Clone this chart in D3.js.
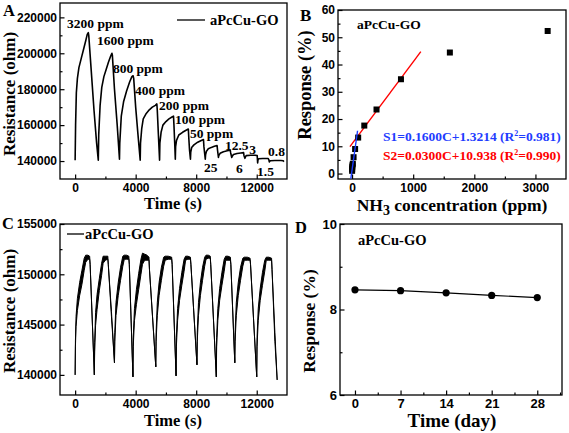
<!DOCTYPE html>
<html><head><meta charset="utf-8">
<script src="https://cdn.jsdelivr.net/npm/d3@7"></script>
<style>
body{margin:0;background:#fff}
svg{display:block}
</style></head><body>
<svg id="c" width="569" height="433"></svg>
<script>
// ---------------- DATA ----------------
// Panel A: resistance (ohm) vs time (s)
const aTrace = [
 [0,140500],[30,160000],[80,178000],[150,186000],[250,192000],[400,197000],[550,202000],[700,207000],[800,210500],[870,211500],[900,210000],[1050,192000],[1250,168000],[1420,150000],[1530,140500],
 [1560,155000],[1650,171000],[1760,181000],[1900,187000],[2050,191000],[2200,195000],[2350,198500],[2430,200000],[2460,199000],[2600,180000],[2780,160000],[2930,141000],
 [2950,150000],[3050,165000],[3200,173000],[3400,179000],[3600,184000],[3750,187000],[3830,187500],[3870,186000],[4000,170000],[4150,155000],[4300,140500],
 [4320,150000],[4400,158000],[4500,163500],[4700,166500],[4900,168500],[5100,170000],[5300,171000],[5400,171800],[5430,168000],[5500,155000],[5580,140500],
 [5600,150000],[5680,156000],[5800,160000],[6000,162000],[6200,163500],[6400,164500],[6500,165000],[6530,160000],[6580,150000],[6620,141000],
 [6640,148000],[6700,151500],[6850,154500],[7100,156000],[7300,157000],[7480,157800],[7510,153000],[7560,146000],[7620,141000],
 [7640,145000],[7700,147500],[7850,149000],[8100,150500],[8300,151300],[8480,152000],[8510,148000],[8600,141000],
 [8620,143500],[8680,145500],[8800,146800],[9000,147600],[9200,148200],[9380,148600],[9410,146000],[9470,142000],
 [9490,143000],[9580,144300],[9800,145200],[10050,145700],[10250,146000],[10280,144500],[10350,142000],
 [10370,142500],[10460,143600],[10700,144200],[10950,144500],[11130,144700],[11160,143000],[11220,141500],
 [11240,142000],[11300,143000],[11600,143200],[11900,143200],[12030,143000],[12060,139000],
 [12080,140500],[12120,141300],[12400,141400],[12750,141400],[12800,140800],[12830,139500],
 [12850,139700],[12900,140200],[13200,140300],[13600,140300],[13750,140200],[13790,139600]
];
// concentration annotations: text, anchor time, anchor resistance
const aNotes = [
 ["3200 ppm",-535,214100],["1600 ppm",1450,204600],["800 ppm",2500,189300],["400 ppm",3960,176800],
 ["200 ppm",5545,168400],["100 ppm",6600,160600],["50 ppm",7590,152600],["12.5",9900,146300],
 ["3",11500,143900],["0.8",12750,142800],["25",8520,133900],["6",10630,133400],["1.5",12020,131700]
];
const aXTicks = [0,4000,8000,12000];
const aYTicks = [140000,160000,180000,200000,220000];

// Panel B: response (%) vs NH3 concentration (ppm)
const bConc = [0.8,1.5,3,6,12.5,25,50,100,200,400,800,1600,3200];
const bResp = [1.0,1.6,2.3,3.0,3.6,6.0,9.0,13.2,17.6,23.5,34.6,44.4,52.3];
const bFitS1 = [[-20,-1.9],[90,15.7]];
const bFitS2 = [[-35,9.9],[1125,44.7]];
const bXTicks = [0,1000,2000,3000];
const bYTicks = [0,10,20,30,40,50,60];

// Panel C: repeated cycles, [time, low, high] of the noisy trace
const cTrace = [
 [0,140000,140000],[20,142800,143400],[60,144800,145800],[150,146400,147600],[300,147900,149200],[450,149000,150400],[600,150400,151600],[700,151200,151900],[850,151500,151900],[960,151500,151800],[990,151000,151000],[1270,140000,140000],
 [1290,142300,143200],[1350,144900,146200],[1450,146500,148000],[1600,148400,149600],[1750,149900,151100],[1850,151100,151800],[2000,151400,151800],[2160,151500,151800],[2190,151000,151000],[2400,145800,146300],[2600,141200,141200],
 [2620,143300,144200],[2700,145900,147200],[2850,147900,149200],[3000,149400,150700],[3150,150800,151800],[3250,151500,151900],[3400,151500,151900],[3550,151500,151800],[3580,151000,151000],[3820,139800,139800],
 [3840,142800,143700],[3920,145400,146600],[4050,147000,148500],[4200,148500,150100],[4350,150000,151500],[4450,151000,152100],[4600,151400,152000],[4750,151400,151900],[4880,151400,151700],[4910,150500,150500],[5330,140800,140800],
 [5350,143300,144200],[5430,145900,147200],[5550,147900,149200],[5700,149400,150700],[5850,150800,151700],[5950,151400,151800],[6150,151500,151800],[6380,151500,151700],[6410,151000,151000],[6670,139900,139900],
 [6690,142800,143700],[6770,145400,146600],[6900,147400,148600],[7050,148900,150200],[7200,150300,151500],[7300,151400,151800],[7450,151500,151800],[7620,151500,151700],[7650,151000,151000],[8050,141000,141000],
 [8070,143300,144200],[8150,145900,147200],[8280,147900,149200],[8420,149400,150700],[8560,150800,151700],[8650,151500,151900],[8800,151600,151900],[8930,151600,151800],[8960,151000,151000],[9330,139800,139800],
 [9350,142800,143700],[9430,145400,146600],[9550,147400,148600],[9700,148900,150200],[9850,150300,151500],[9950,151400,151800],[10100,151400,151800],[10260,151400,151700],[10290,151000,151000],[10550,141200,141200],
 [10570,143300,144200],[10650,145900,147200],[10780,147900,149200],[10930,149400,150700],[11080,150800,151600],[11180,151400,151700],[11380,151400,151700],[11560,151400,151600],[11590,151000,151000],[12000,139800,139800],
 [12020,142800,143700],[12100,145400,146600],[12230,147400,148600],[12380,148900,150200],[12530,150300,151400],[12630,151400,151700],[12800,151400,151700],[12980,151400,151600],[13010,150500,150500],[13200,143300,144200],[13350,139500,139500]
];
const cXTicks = [0,4000,8000,12000];
const cYTicks = [140000,145000,150000,155000];

// Panel D: stability
const dDays = [0,7,14,21,28];
const dResp = [8.46,8.44,8.39,8.33,8.28];
const dXTicks = [0,7,14,21,28];
const dYTicks = [6,8,10];

// ---------------- DRAWING ----------------
const svg = d3.select("#c");
const SANS = "'Liberation Sans', Arial, sans-serif";
const SERIF = "'Liberation Serif', 'Times New Roman', serif";

function panel(cfg){
  const x = d3.scaleLinear().domain(cfg.xd).range([cfg.l, cfg.r]);
  const y = d3.scaleLinear().domain(cfg.yd).range([cfg.b, cfg.t]);
  const g = svg.append("g");
  const style = s => {
    s.select(".domain").remove();
    s.selectAll("line").attr("stroke","#000").attr("stroke-width",1.2);
    s.selectAll("text").attr("font-family",SANS).attr("font-weight","bold").attr("font-size",cfg.tf).attr("fill","#000");
  };
  g.append("g").attr("transform",`translate(0,${cfg.b})`)
    .call(d3.axisBottom(x).tickValues(cfg.xMinor).tickSize(-2.5).tickFormat("")).call(style);
  g.append("g").attr("transform",`translate(${cfg.l},0)`)
    .call(d3.axisLeft(y).tickValues(cfg.yMinor).tickSize(-2.5).tickFormat("")).call(style);
  g.append("g").attr("transform",`translate(0,${cfg.b})`)
    .call(d3.axisBottom(x).tickValues(cfg.xMajor).tickSizeInner(-4.5).tickSizeOuter(0).tickPadding(4).tickFormat(d3.format("d"))).call(style);
  g.append("g").attr("transform",`translate(${cfg.l},0)`)
    .call(d3.axisLeft(y).tickValues(cfg.yMajor).tickSizeInner(-4.5).tickSizeOuter(0).tickPadding(3).tickFormat(d3.format("d"))).call(style);
  g.append("rect").attr("x",cfg.l).attr("y",cfg.t).attr("width",cfg.r-cfg.l).attr("height",cfg.b-cfg.t)
    .attr("fill","none").attr("stroke","#000").attr("stroke-width",1.3);
  return {x,y,g};
}
function txt(x,y,s,size,opts={}){
  const t = svg.append("text").attr("x",x).attr("y",y).text(s)
    .attr("font-family",opts.font||SERIF).attr("font-weight","bold").attr("font-size",size)
    .attr("fill",opts.fill||"#000").attr("text-anchor",opts.anchor||"start");
  if(opts.rot) t.attr("transform",`rotate(-90,${x},${y})`);
  return t;
}

// ---- Panel A
{
  const minorX=[2000,6000,10000], minorY=[150000,170000,190000,210000];
  const {x,y,g} = panel({l:60,r:287,t:3,b:179,xd:[-1000,14000],yd:[130000,228000],
    xMajor:aXTicks,yMajor:aYTicks,xMinor:minorX,yMinor:minorY,tf:12});
  g.append("path").datum(aTrace).attr("fill","none").attr("stroke","#000").attr("stroke-width",1.6)
    .attr("stroke-linejoin","round").attr("d",d3.line().x(d=>x(d[0])).y(d=>y(d[1])));
  aNotes.forEach(n=>txt(x(n[1]),y(n[2]),n[0],13.5));
  g.append("line").attr("x1",177).attr("x2",205).attr("y1",20).attr("y2",20).attr("stroke","#000").attr("stroke-width",1.3);
  txt(210,25,"aPcCu-GO",14.5);
  txt(3,16,"A",16.5);
  txt(14.5,94,"Resistance (ohm)",17,{anchor:"middle",rot:true});
  txt(173,209,"Time (s)",16.5,{anchor:"middle"});
}
// ---- Panel B
{
  const {x,y,g} = panel({l:338,r:566,t:10,b:179,xd:[-230,3500],yd:[-2,60],
    xMajor:bXTicks,yMajor:bYTicks,xMinor:[500,1500,2500],yMinor:[5,15,25,35,45,55],tf:12});
  const ln = d3.line().x(d=>x(d[0])).y(d=>y(d[1]));
  g.append("path").datum(bFitS2).attr("stroke","#ff0000").attr("stroke-width",1.4).attr("fill","none").attr("d",ln);
  g.selectAll("rect.pt").data(bConc).join("rect").attr("class","pt")
    .attr("x",(d,i)=>x(d)-3).attr("y",(d,i)=>y(bResp[i])-3).attr("width",6).attr("height",6).attr("fill","#000");
  g.append("path").datum(bFitS1).attr("stroke","#1a3cff").attr("stroke-width",1.4).attr("fill","none").attr("d",ln);
  txt(357,29,"aPcCu-GO",13.5);
  const s1 = txt(383,141,"",13.5,{fill:"#1f3dff"});
  s1.text(null);
  s1.append("tspan").text("S1=0.1600C+1.3214 (R");
  s1.append("tspan").attr("dy",-5).attr("font-size",8).text("2");
  s1.append("tspan").attr("dy",5).text("=0.981)");
  const s2 = txt(383,160,"",13.5,{fill:"#ff0000"});
  s2.text(null);
  s2.append("tspan").text("S2=0.0300C+10.938 (R");
  s2.append("tspan").attr("dy",-5).attr("font-size",8).text("2");
  s2.append("tspan").attr("dy",5).text("=0.990)");
  txt(300,21,"B",17);
  txt(311,85,"Response (%)",18.5,{anchor:"middle",rot:true});
  const xt = txt(452,211,"",17.5,{anchor:"middle"});
  xt.text(null);
  xt.append("tspan").text("NH");
  xt.append("tspan").attr("dy",4).attr("font-size",14).text("3");
  xt.append("tspan").attr("dy",-4).text(" concentration (ppm)");
}
// ---- Panel C
{
  const {x,y,g} = panel({l:60,r:287,t:224,b:395,xd:[-1000,14000],yd:[138000,155000],
    xMajor:cXTicks,yMajor:cYTicks,xMinor:[2000,6000,10000],yMinor:[142500,147500,152500],tf:12});
  g.append("path").datum(cTrace).attr("fill","#000").attr("stroke","#000").attr("stroke-width",1.0)
    .attr("stroke-linejoin","round")
    .attr("d",d3.area().x(d=>x(d[0])).y0(d=>y(d[1])).y1(d=>y(d[2])));
  g.append("line").attr("x1",67).attr("x2",84).attr("y1",234).attr("y2",234).attr("stroke","#000").attr("stroke-width",1.3);
  txt(85,239,"aPcCu-GO",14.5);
  txt(2,229,"C",16.5);
  txt(14.5,311,"Resistance (ohm)",17,{anchor:"middle",rot:true});
  txt(173,426,"Time (s)",16.5,{anchor:"middle"});
}
// ---- Panel D
{
  const {x,y,g} = panel({l:340,r:562,t:224,b:395,xd:[-2.3,31.8],yd:[6,10],
    xMajor:dXTicks,yMajor:dYTicks,xMinor:[3.5,10.5,17.5,24.5,31.5],yMinor:[7,9],tf:13});
  g.append("path").datum(dDays.map((d,i)=>[d,dResp[i]])).attr("fill","none").attr("stroke","#000").attr("stroke-width",1.2)
    .attr("d",d3.line().x(d=>x(d[0])).y(d=>y(d[1])));
  g.selectAll("circle").data(dDays).join("circle").attr("cx",d=>x(d)).attr("cy",(d,i)=>y(dResp[i])).attr("r",3.6).attr("fill","#000");
  txt(358,245,"aPcCu-GO",14.5);
  txt(295,233,"D",16.5);
  txt(315,321,"Response (%)",17.5,{anchor:"middle",rot:true});
  txt(452,427,"Time (day)",19,{anchor:"middle"});
}
</script>
</body></html>
